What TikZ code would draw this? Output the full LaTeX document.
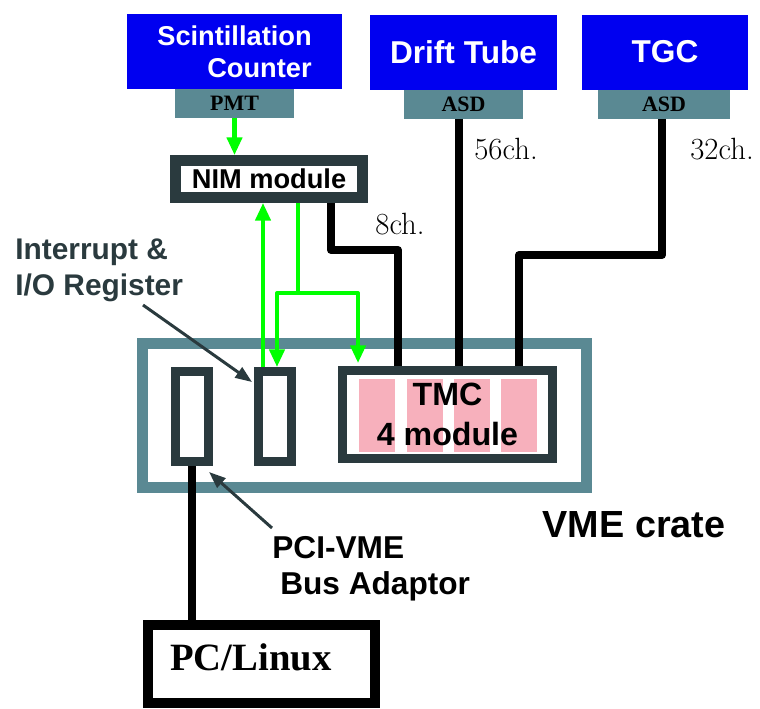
\documentclass[tikz,border=0pt]{standalone}
\usepackage{fontspec}
\newfontfamily\arialfont{Liberation Sans}
\newfontfamily\timesfont{Liberation Serif}
\usetikzlibrary{arrows.meta}

\definecolor{detblue}{RGB}{0,0,240}
\definecolor{asdgrey}{RGB}{90,137,147}
\definecolor{slate}{RGB}{42,58,62}
\definecolor{tmcpink}{RGB}{247,176,188}
\definecolor{siggreen}{RGB}{0,255,0}

\begin{document}
\begin{tikzpicture}[x=0.02cm,y=-0.02cm,
	detector/.style={fill=detblue, text=white, inner sep=0pt, minimum height=1.5cm,
		font=\arialfont\bfseries\fontsize{18}{20}\selectfont},
	frontend/.style={fill=asdgrey, inner sep=0pt, minimum height=0.58cm,
		font=\timesfont\bfseries\fontsize{12.5}{14}\selectfont},
	slot/.style={draw=slate, line width=5.1pt, inner sep=0pt, minimum width=0.66cm, minimum height=1.8cm},
	sig/.style={siggreen, line width=2.3pt, line join=round},
	tip/.style={-{Triangle[length=10pt,width=8.5pt]}},
	cable/.style={line width=4.5pt, line join=round},
	pointer/.style={slate, line width=1.7pt, -{Triangle[length=9.5pt,width=7pt]}},
	chlabel/.style={anchor=base, font=\fontsize{17.5}{20}\selectfont},
	sanslabel/.style={font=\arialfont\bfseries\fontsize{18}{20.4}\selectfont}]
	\useasboundingbox (0,0) rectangle (760,708);

	% detectors and front-end boards
	\node[detector, minimum width=4.3cm, align=right, font=\arialfont\bfseries\fontsize{15.5}{18}\selectfont]
		(scint) at (234.5,51.5) {Scintillation\\Counter};
	\node[detector, minimum width=3.74cm] (drift) at (463.5,52) {Drift Tube};
	\node[detector, minimum width=3.32cm] (tgc) at (665,52) {TGC};
	\node[frontend, minimum width=2.38cm] (pmt) at (234.5,103.5) {PMT};
	\node[frontend, minimum width=2.38cm] (asdDT) at (463.5,104) {ASD};
	\node[frontend, minimum width=2.64cm] (asdTGC) at (664,104) {ASD};

	\node[draw=slate, line width=6.2pt, inner sep=0pt, minimum width=3.74cm, minimum height=0.74cm,
		font=\arialfont\bfseries\fontsize{15.5}{18}\selectfont] (nim) at (269,179) {NIM module};

	% VME crate
	\node[draw=asdgrey, line width=6.2pt, minimum width=8.88cm, minimum height=2.88cm] (crate) at (364.5,415.5) {};
	\node[sanslabel, anchor=base, font=\arialfont\bfseries\fontsize{21.5}{24}\selectfont] (cratename) at (634,537) {VME crate};
	\node[slot] (pci) at (192,416.5) {};
	\node[slot] (ioreg) at (275,416.5) {};
	\foreach \x in {377,425,472,519}
		\fill[tmcpink] (\x-18,379) rectangle (\x+18,452);
	\node[draw=slate, line width=5.1pt, minimum width=4.2cm, minimum height=1.76cm, align=center,
		font=\arialfont\bfseries\fontsize{18.3}{22.7}\selectfont] (tmc) at (447.5,414.5) {TMC\\4 module};

	\node[draw, line width=5.67pt, minimum width=4.54cm, minimum height=1.56cm] (pc) at (261.5,664) {};
	\node[anchor=base west, inner sep=0pt, font=\timesfont\bfseries\fontsize{22}{24}\selectfont] (pcname) at (170,670) {PC/Linux};

	% signals
	\draw[sig, tip] (pmt.south) -- (pmt.south |- nim.north);
	\draw[sig, tip] ([xshift=-0.24cm]ioreg.north) -- ([xshift=-0.24cm]ioreg.north |- nim.south);
	\coordinate (fanout) at (298,293);
	\draw[sig] (fanout |- nim.south) -- (fanout);
	\draw[sig, tip] (fanout) -| ([xshift=0.04cm]ioreg.north);
	\draw[sig, tip] (fanout) -| ([xshift=-1.79cm,yshift=0.06cm]tmc.north);

	% cables
	\coordinate (bend8) at (398,250);
	\coordinate (bend32) at (519,255);
	\draw[cable] ([xshift=1.24cm]nim.south) |- (bend8) -- (bend8 |- tmc.north);
	\draw[cable] ([xshift=-0.09cm]asdDT.south) -- ([xshift=-0.09cm]asdDT.south |- tmc.north);
	\draw[cable] ([xshift=-0.04cm]asdTGC.south) |- (bend32) -- (bend32 |- tmc.north);
	\draw[line width=5pt] (pci.south) -- (pci.south |- pc.north);
	\node[chlabel] (ch8) at (400,234) {8ch.};
	\node[chlabel] (ch56) at (506,159) {56ch.};
	\node[chlabel] (ch32) at (722,159) {32ch.};

	% pointers
	\node[sanslabel, anchor=base west, inner sep=0pt, align=left, text=slate,
		font=\arialfont\bfseries\fontsize{17}{20.4}\selectfont] (ioregname) at (15,295) {Interrupt \&\\I/O Register};
	\coordinate (iotail) at (143,305);
	\draw[pointer] (iotail) -- ([xshift=-0.04cm,yshift=0.69cm]ioreg.west);
	\node[sanslabel, anchor=base west, inner sep=0pt, align=left] (pciname) at (272,594) {PCI-VME\\\hspace*{4.5pt}Bus Adaptor};
	\coordinate (pcitail) at (272,528);
	\draw[pointer] (pcitail) -- ([xshift=0.34cm,yshift=-0.12cm]pci.south);
\end{tikzpicture}
\end{document}
